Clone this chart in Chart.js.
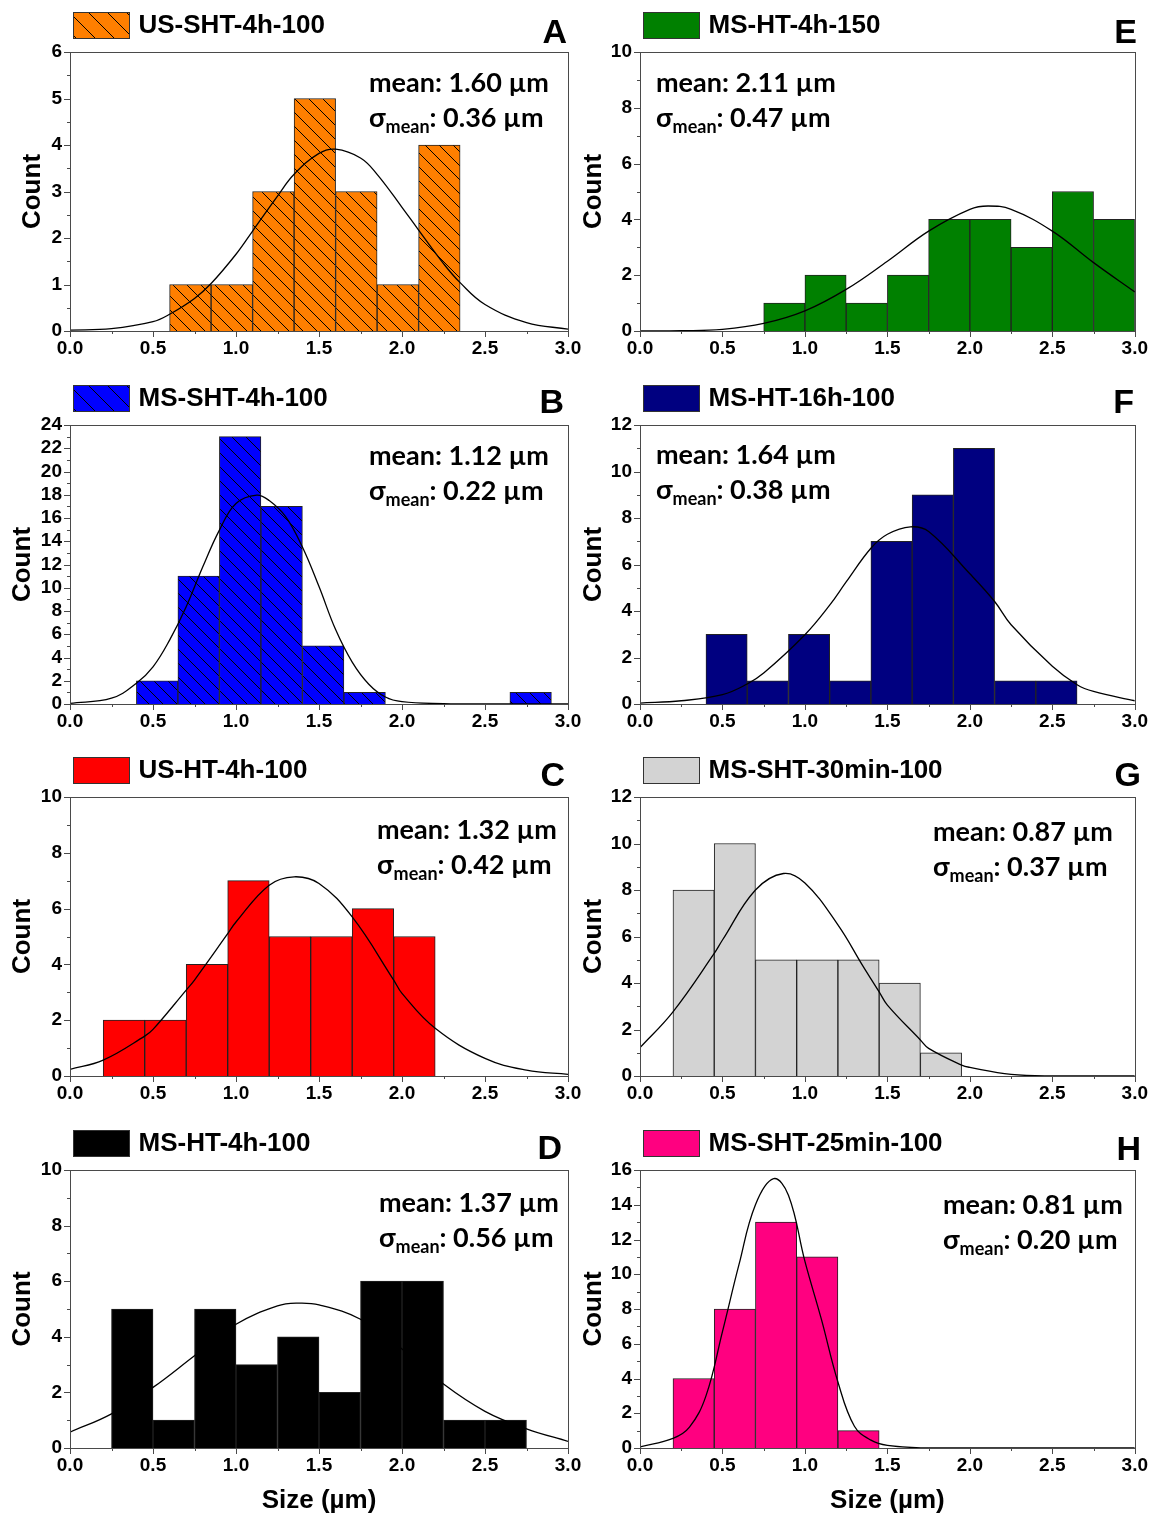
<!DOCTYPE html>
<html>
<head>
<meta charset="utf-8">
<script src="https://cdn.jsdelivr.net/npm/chart.js@4.4.1/dist/chart.umd.min.js"></script>
<style>
    html, body { margin: 0; padding: 0; background: #fff; }
    #sheet { position: relative; width: 1154px; height: 1516px; overflow: hidden; }
    #sheet canvas { position: absolute; }
    .note { position: absolute; font: 700 27px Lato, sans-serif; line-height: 30px; white-space: nowrap; color: #000; }
    .note sub { font-size: 18px; vertical-align: -6px; line-height: 0; }
    .tag { position: absolute; width: 60px; text-align: right; font: 700 34px "Liberation Sans", Arial, sans-serif; line-height: 34px; color: #000; }
</style>
</head>
<body>
<div id="sheet"></div>
<script>
/* global Chart */

// shared axis values
const sizeTicks = [0.0, 0.5, 1.0, 1.5, 2.0, 2.5, 3.0];
const binWidth = 0.25;

// A - US-SHT-4h-100
const labelA = 'US-SHT-4h-100';
const binsA = [0.6, 0.85, 1.1, 1.35, 1.6, 1.85, 2.1];
const countsA = [1, 1, 3, 5, 3, 1, 4];
const fitXA = [0, 0.25, 0.5, 0.6, 0.75, 0.85, 1.0, 1.1, 1.25, 1.35, 1.5, 1.6, 1.75, 1.85, 2.0, 2.1, 2.25, 2.35, 2.5, 2.75, 3.0];
const fitYA = [0.02, 0.05, 0.2, 0.36, 0.7, 1.02, 1.65, 2.15, 2.9, 3.37, 3.82, 3.91, 3.72, 3.37, 2.66, 2.17, 1.45, 1.04, 0.57, 0.18, 0.04];
const countTicksA = [0, 1, 2, 3, 4, 5, 6];

// B - MS-SHT-4h-100
const labelB = 'MS-SHT-4h-100';
const binsB = [0.4, 0.65, 0.9, 1.15, 1.4, 1.65, 2.65];
const countsB = [2, 11, 23, 17, 5, 1, 1];
const fitXB = [0, 0.25, 0.4, 0.5, 0.6, 0.7, 0.8, 0.9, 1.0, 1.125, 1.2, 1.3, 1.4, 1.5, 1.6, 1.7, 1.8, 1.9, 2.0, 2.25, 2.5, 3.0];
const fitYB = [0.06, 0.5, 1.78, 3.2, 5.5, 8.37, 11.8, 14.96, 17.25, 17.97, 17.5, 16.1, 13.5, 10.1, 6.4, 3.6, 1.7, 0.6, 0.2, 0.03, 0, 0];
const countTicksB = [0, 2, 4, 6, 8, 10, 12, 14, 16, 18, 20, 22, 24];

// C - US-HT-4h-100
const labelC = 'US-HT-4h-100';
const binsC = [0.2, 0.45, 0.7, 0.95, 1.2, 1.45, 1.7, 1.95];
const countsC = [2, 2, 4, 7, 5, 5, 6, 5];
const fitXC = [0, 0.2, 0.45, 0.5, 0.7, 0.75, 0.95, 1.0, 1.2, 1.35, 1.5, 1.7, 1.95, 2.0, 2.2, 2.5, 2.75, 3.0];
const fitYC = [0.24, 0.57, 1.43, 1.67, 3.08, 3.44, 5.1, 5.52, 6.84, 7.14, 6.9, 5.7, 3.44, 2.96, 1.71, 0.63, 0.21, 0.06];
const countTicksC = [0, 2, 4, 6, 8, 10];

// D - MS-HT-4h-100
const labelD = 'MS-HT-4h-100';
const binsD = [0.25, 0.5, 0.75, 1.0, 1.25, 1.5, 1.75, 2.0, 2.25, 2.5];
const countsD = [5, 1, 5, 3, 4, 2, 6, 6, 1, 1];
const fitXD = [0, 0.25, 0.5, 0.75, 1.0, 1.25, 1.37, 1.5, 1.75, 2.0, 2.25, 2.5, 2.75, 3.0];
const fitYD = [0.57, 1.23, 2.18, 3.32, 4.45, 5.11, 5.21, 5.15, 4.63, 3.56, 2.3, 1.32, 0.69, 0.24];
const countTicksD = [0, 2, 4, 6, 8, 10];

// E - MS-HT-4h-150
const labelE = 'MS-HT-4h-150';
const binsE = [0.75, 1.0, 1.25, 1.5, 1.75, 2.0, 2.25, 2.5, 2.75];
const countsE = [1, 2, 1, 2, 4, 4, 3, 5, 4];
const fitXE = [0, 0.25, 0.5, 0.75, 1.0, 1.25, 1.5, 1.75, 2.0, 2.11, 2.25, 2.5, 2.75, 3.0];
const fitYE = [0, 0.01, 0.06, 0.27, 0.72, 1.49, 2.5, 3.58, 4.36, 4.48, 4.36, 3.58, 2.45, 1.4];
const countTicksE = [0, 2, 4, 6, 8, 10];

// F - MS-HT-16h-100
const labelF = 'MS-HT-16h-100';
const binsF = [0.4, 0.65, 0.9, 1.15, 1.4, 1.65, 1.9, 2.15, 2.4];
const countsF = [3, 1, 3, 1, 7, 9, 11, 1, 1];
const fitXF = [0, 0.25, 0.5, 0.65, 0.75, 1.0, 1.15, 1.25, 1.4, 1.5, 1.64, 1.75, 2.0, 2.15, 2.25, 2.5, 2.65, 2.75, 3.0];
const fitYF = [0.04, 0.14, 0.4, 0.86, 1.33, 2.98, 4.25, 5.25, 6.7, 7.3, 7.62, 7.42, 5.6, 4.41, 3.41, 1.62, 0.83, 0.54, 0.14];
const countTicksF = [0, 2, 4, 6, 8, 10, 12];

// G - MS-SHT-30min-100
const labelG = 'MS-SHT-30min-100';
const binsG = [0.2, 0.45, 0.7, 0.95, 1.2, 1.45, 1.7];
const countsG = [8, 10, 5, 5, 5, 4, 1];
const fitXG = [0, 0.2, 0.45, 0.5, 0.7, 0.87, 1.0, 1.2, 1.35, 1.45, 1.5, 1.7, 1.75, 1.95, 2.0, 2.25, 2.5, 3.0];
const fitYG = [1.22, 2.76, 5.27, 5.85, 8.0, 8.71, 8.3, 6.5, 4.75, 3.62, 3.05, 1.55, 1.19, 0.47, 0.37, 0.07, 0, 0];
const countTicksG = [0, 2, 4, 6, 8, 10, 12];

// H - MS-SHT-25min-100
const labelH = 'MS-SHT-25min-100';
const binsH = [0.2, 0.45, 0.7, 0.95, 1.2];
const countsH = [4, 8, 13, 11, 1];
const fitXH = [0, 0.2, 0.3, 0.4, 0.5, 0.6, 0.7, 0.81, 0.9, 1.0, 1.1, 1.2, 1.3, 1.4, 1.5, 1.75, 2.0, 3.0];
const fitYH = [0.06, 0.55, 1.2, 3.0, 6.7, 10.55, 14.0, 15.5, 14.55, 10.74, 7.4, 3.8, 1.25, 0.45, 0.15, 0, 0, 0];
const countTicksH = [0, 2, 4, 6, 8, 10, 12, 14, 16];

const panels = [
    { tag: 'A', label: labelA, bins: binsA, counts: countsA, fitX: fitXA, fitY: fitYA, yTicks: countTicksA, minor: 0.5, color: '#FF7F00', hatch: true, col: 0, row: 0, countPad: 17, mean: '1.60', sigma: '0.36', noteX: 369, noteY: 92, tagX: 567, tagY: 43 },
    { tag: 'B', label: labelB, bins: binsB, counts: countsB, fitX: fitXB, fitY: fitYB, yTicks: countTicksB, minor: 1, color: '#0000FF', hatch: true, col: 0, row: 1, countPad: 7, mean: '1.12', sigma: '0.22', noteX: 369, noteY: 465, tagX: 564, tagY: 413 },
    { tag: 'C', label: labelC, bins: binsC, counts: countsC, fitX: fitXC, fitY: fitYC, yTicks: countTicksC, minor: 1, color: '#FF0000', col: 0, row: 2, countPad: 7, mean: '1.32', sigma: '0.42', noteX: 377, noteY: 839, tagX: 565, tagY: 786 },
    { tag: 'D', label: labelD, bins: binsD, counts: countsD, fitX: fitXD, fitY: fitYD, yTicks: countTicksD, minor: 1, color: '#000000', col: 0, row: 3, countPad: 7, mean: '1.37', sigma: '0.56', noteX: 379, noteY: 1212, tagX: 562, tagY: 1159 },
    { tag: 'E', label: labelE, bins: binsE, counts: countsE, fitX: fitXE, fitY: fitYE, yTicks: countTicksE, minor: 1, color: '#008000', col: 1, row: 0, countPad: 1.5, mean: '2.11', sigma: '0.47', noteX: 656, noteY: 92, tagX: 1137, tagY: 43 },
    { tag: 'F', label: labelF, bins: binsF, counts: countsF, fitX: fitXF, fitY: fitYF, yTicks: countTicksF, minor: 1, color: '#000080', col: 1, row: 1, countPad: 1.5, mean: '1.64', sigma: '0.38', noteX: 656, noteY: 464, tagX: 1134, tagY: 413 },
    { tag: 'G', label: labelG, bins: binsG, counts: countsG, fitX: fitXG, fitY: fitYG, yTicks: countTicksG, minor: 1, color: '#D3D3D3', col: 1, row: 2, countPad: 1.5, mean: '0.87', sigma: '0.37', noteX: 933, noteY: 841, tagX: 1141, tagY: 786 },
    { tag: 'H', label: labelH, bins: binsH, counts: countsH, fitX: fitXH, fitY: fitYH, yTicks: countTicksH, minor: 1, color: '#FF0080', col: 1, row: 3, countPad: 1.5, mean: '0.81', sigma: '0.20', noteX: 943, noteY: 1214, tagX: 1141, tagY: 1160 }
];

const columns = [
    { left: 0, width: 600, yWidth: 70, padRight: 32 },
    { left: 577, width: 577, yWidth: 63, padRight: 16 }
];
const rows = [
    { top: 0, height: 373, xHeight: 42 },
    { top: 373, height: 373, xHeight: 42 },
    { top: 745, height: 373, xHeight: 42 },
    { top: 1118, height: 398, xHeight: 68 }
];

const FONT = '"Liberation Sans", Arial, sans-serif';
Chart.defaults.font.family = FONT;
Chart.defaults.color = '#000';

const makeHatch = (color, gap) => {
    const tile = document.createElement('canvas');
    tile.width = gap;
    tile.height = gap;
    const ctx = tile.getContext('2d');
    ctx.fillStyle = color;
    ctx.fillRect(0, 0, gap, gap);
    ctx.strokeStyle = '#000';
    ctx.lineWidth = 1;
    ctx.beginPath();
    [-1, 0, 1].forEach((k) => {
        ctx.moveTo(k * gap, 0);
        ctx.lineTo(k * gap + gap, gap);
    });
    ctx.stroke();
    return ctx.createPattern(tile, 'repeat');
};

// frame, outward ticks and the key swatch above the plot
const histFrame = {
    id: 'histFrame',
    afterDraw(chart, args, opts) {
        const { ctx, chartArea: area, scales: { x, y } } = chart;
        ctx.save();
        ctx.strokeStyle = '#4a4a4a';
        ctx.lineWidth = 1;
        ctx.strokeRect(Math.round(area.left) + 0.5, Math.round(area.top) + 0.5,
            Math.round(area.width), Math.round(area.height));

        ctx.beginPath();
        for (let i = 0; i <= 12; i++) {
            const px = Math.round(x.getPixelForValue(i * 0.25)) + 0.5;
            const len = i % 2 === 0 ? 6 : 3;
            ctx.moveTo(px, area.bottom);
            ctx.lineTo(px, area.bottom + len);
        }
        for (let v = 0; v <= y.max + 1e-9; v += opts.minor) {
            const py = Math.round(y.getPixelForValue(v)) + 0.5;
            const isMajor = opts.majors.some((m) => Math.abs(m - v) < 1e-9);
            ctx.moveTo(area.left, py);
            ctx.lineTo(area.left - (isMajor ? 6 : 3), py);
        }
        ctx.stroke();

        const sx = Math.round(area.left) + 3.5;
        ctx.fillStyle = opts.keyFill;
        ctx.fillRect(sx, 12.5, 56, 26);
        ctx.strokeStyle = '#333';
        ctx.strokeRect(sx, 12.5, 56, 26);
        ctx.fillStyle = '#000';
        ctx.font = 'bold 26px ' + FONT;
        ctx.textBaseline = 'middle';
        ctx.fillText(chart.data.datasets[0].label, sx + 65, 26);
        ctx.restore();
    }
};

const sheet = document.getElementById('sheet');

const addNote = (p) => {
    const line1 = document.createElement('div');
    line1.className = 'note';
    line1.style.left = p.noteX + 'px';
    line1.style.top = (p.noteY - 25) + 'px';
    line1.textContent = 'mean: ' + p.mean + ' µm';
    sheet.appendChild(line1);

    const line2 = document.createElement('div');
    line2.className = 'note';
    line2.style.left = p.noteX + 'px';
    line2.style.top = (p.noteY + 35 - 25) + 'px';
    line2.innerHTML = 'σ<sub>mean</sub>: ' + p.sigma + ' µm';
    sheet.appendChild(line2);

    const tag = document.createElement('div');
    tag.className = 'tag';
    tag.style.left = (p.tagX - 60) + 'px';
    tag.style.top = (p.tagY - 29) + 'px';
    tag.textContent = p.tag;
    sheet.appendChild(tag);
};

const renderPanel = (p) => {
    const col = columns[p.col];
    const row = rows[p.row];
    const canvas = document.createElement('canvas');
    canvas.width = col.width;
    canvas.height = row.height;
    canvas.style.left = col.left + 'px';
    canvas.style.top = row.top + 'px';
    canvas.style.width = col.width + 'px';
    canvas.style.height = row.height + 'px';
    sheet.appendChild(canvas);

    const fill = p.hatch ? makeHatch(p.color, 14) : p.color;
    const keyFill = p.hatch ? makeHatch(p.color, 19) : p.color;
    const isBottom = p.row === rows.length - 1;

    new Chart(canvas, {
        type: 'bar',
        data: {
            datasets: [
                {
                    type: 'bar',
                    label: p.label,
                    data: p.bins.map((b, i) => ({ x: b + binWidth / 2, y: p.counts[i] })),
                    backgroundColor: fill,
                    borderColor: '#222',
                    borderWidth: 1,
                    barPercentage: 1,
                    categoryPercentage: 1,
                    order: 1
                },
                {
                    type: 'line',
                    label: 'fit',
                    data: p.fitX.map((x, i) => ({ x, y: p.fitY[i] })),
                    borderColor: '#000',
                    borderWidth: 1.3,
                    pointRadius: 0,
                    tension: 0.4,
                    order: 0
                }
            ]
        },
        options: {
            responsive: false,
            animation: false,
            devicePixelRatio: 1,
            layout: { padding: { top: 52, left: 0, right: col.padRight, bottom: 0 } },
            plugins: {
                legend: { display: false },
                tooltip: { enabled: false },
                histFrame: { minor: p.minor, majors: p.yTicks, keyFill }
            },
            scales: {
                x: {
                    type: 'linear',
                    min: 0,
                    max: 3,
                    offset: false,
                    grid: { display: false, drawTicks: false },
                    border: { display: false },
                    afterBuildTicks: (scale) => { scale.ticks = sizeTicks.map((v) => ({ value: v })); },
                    afterFit: (scale) => { scale.height = row.xHeight; },
                    ticks: {
                        autoSkip: false,
                        maxRotation: 0,
                        padding: 6,
                        font: { size: 19, weight: 'bold' },
                        callback: (v) => Number(v).toFixed(1)
                    },
                    title: {
                        display: isBottom,
                        text: 'Size (µm)',
                        font: { size: 26, weight: 'bold' },
                        padding: { top: 0, bottom: 0 }
                    }
                },
                y: {
                    type: 'linear',
                    min: 0,
                    max: p.yTicks[p.yTicks.length - 1],
                    grid: { display: false, drawTicks: false },
                    border: { display: false },
                    afterBuildTicks: (scale) => { scale.ticks = p.yTicks.map((v) => ({ value: v })); },
                    afterFit: (scale) => { scale.width = col.yWidth; },
                    ticks: {
                        autoSkip: false,
                        padding: 8,
                        font: { size: 19, weight: 'bold' }
                    },
                    title: {
                        display: true,
                        text: 'Count',
                        font: { size: 26, weight: 'bold' },
                        padding: { top: p.countPad, bottom: 0 }
                    }
                }
            }
        },
        plugins: [histFrame]
    });

    addNote(p);
};

panels.forEach(renderPanel);
</script>
</body>
</html>
